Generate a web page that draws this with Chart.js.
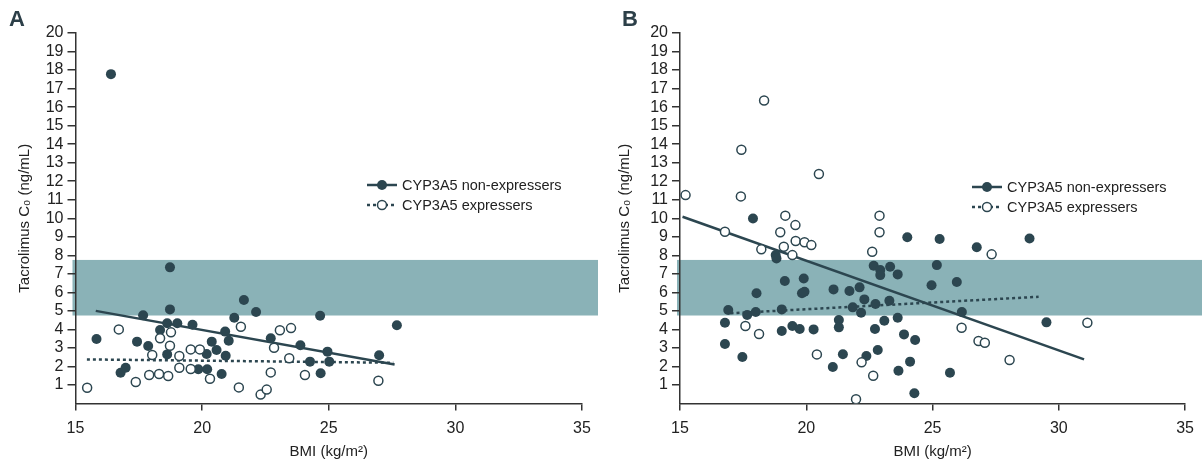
<!DOCTYPE html>
<html>
<head>
<meta charset="utf-8">
<script src="https://cdn.jsdelivr.net/npm/chart.js@4/dist/chart.umd.min.js"></script>
<style>
  body { margin: 0; background: #fff; }
  .wrap { position: relative; width: 1202px; height: 465px; }
  .panel { position: absolute; top: 0; height: 465px; }
  .tag { position: absolute; top: 6px; font: bold 22px "Liberation Sans", sans-serif; color: #2c3f48; }
</style>
</head>
<body>
<div class="wrap">
  <div class="panel" style="left:0;width:600px"><canvas id="chart-a" width="600" height="465"></canvas></div>
  <div class="panel" style="left:600px;width:602px"><canvas id="chart-b" width="602" height="465"></canvas></div>
  <div class="tag" style="left:9px">A</div>
  <div class="tag" style="left:622px">B</div>
</div>
<script>
// Panel A: BMI (x) vs tacrolimus C0 (y)
const aNonX = [16.4, 18.73, 15.83, 17.67, 18.73, 18.34, 18.62, 19.02, 19.62, 17.43, 17.87, 18.62, 16.78, 16.98,
  20.38, 20.57, 20.18, 20.91, 21.05, 20.93, 19.85, 20.2, 20.77, 21.27, 21.65, 22.13, 22.71, 23.88,
  24.66, 27.69, 24.95, 24.26, 25.02, 24.68, 26.99];
const aNonY = [17.78, 7.35, 3.48, 4.76, 5.08, 3.97, 4.33, 4.33, 4.25, 3.34, 3.1, 2.65, 1.66, 1.93,
  3.34, 2.89, 2.67, 3.88, 3.39, 2.58, 1.85, 1.85, 1.59, 4.63, 5.59, 4.94, 3.52, 3.14,
  4.74, 4.22, 2.8, 2.26, 2.26, 1.63, 2.6];
const aExpX = [15.46, 16.71, 17.38, 17.91, 18.03, 18.3, 18.66, 18.34, 18.77, 18.73, 19.1, 19.1, 19.55, 19.91,
  19.55, 20.31, 21.45, 21.53, 22.31, 22.55, 22.71, 22.84, 23.07, 23.51, 23.44, 24.06, 26.96];
const aExpY = [0.85, 4.0, 1.16, 1.54, 2.62, 1.59, 1.48, 3.52, 3.84, 3.12, 2.56, 1.93, 2.92, 2.92,
  1.86, 1.34, 0.87, 4.14, 0.48, 0.75, 1.68, 3.01, 3.95, 4.07, 2.44, 1.54, 1.23];
const aFitNon = [[15.8, 5.0], [27.6, 2.1]];
const aFitExp = [[15.45, 2.38], [27.55, 2.2]];

// Panel B
const bNonX = [17.89, 18.79, 18.82, 22.67, 22.93, 22.93, 23.32, 23.62, 19.15, 19.9, 19.83, 19.93, 18.03, 21.08,
  21.71, 22.11, 22.3, 21.84, 22.17, 22.74, 23.29, 23.62, 16.91, 16.78, 17.66, 18.0, 19.03, 16.78, 17.47,
  19.03, 19.45, 19.74, 20.29, 21.29, 21.29, 21.45, 21.05, 22.38, 22.83, 22.72, 23.09, 23.65,
  24.0, 25.28, 28.84, 26.75, 25.17, 24.96, 25.96, 26.16, 29.51, 23.87, 24.31, 24.11, 25.69, 24.28];
const bNonY = [9.99, 8.01, 7.83, 7.44, 7.2, 6.93, 7.38, 6.97, 6.61, 6.75, 5.95, 6.03, 5.95, 6.16,
  6.07, 6.27, 5.62, 5.19, 4.9, 5.37, 5.55, 4.63, 5.05, 4.36, 4.78, 4.94, 5.08, 3.21, 2.51,
  3.91, 4.18, 4.02, 4.0, 4.51, 4.11, 2.66, 1.97, 2.56, 2.89, 4.02, 4.47, 1.77,
  8.97, 8.88, 8.91, 8.43, 7.47, 6.38, 6.56, 4.94, 4.38, 3.73, 3.43, 2.26, 1.66, 0.55];
const bExpX = [15.22, 18.33, 17.43, 17.41, 20.5, 19.17, 19.57, 16.78, 18.97, 22.9, 22.9, 19.11, 19.58, 19.93,
  20.2, 18.22, 19.45, 22.61, 17.59, 18.13, 20.42, 22.19, 22.65, 21.97, 27.34, 31.13, 26.15, 26.82, 27.07, 28.05];
const bExpY = [11.25, 16.36, 13.7, 11.18, 12.39, 10.14, 9.63, 9.27, 9.24, 10.14, 9.24, 8.46, 8.77, 8.7,
  8.55, 8.32, 8.01, 8.19, 4.18, 3.75, 2.65, 2.22, 1.5, 0.23, 8.05, 4.36, 4.09, 3.37, 3.28, 2.35];
const bFitNon = [[15.1, 10.08], [31.0, 2.38]];
const bFitExp = [[17.0, 4.87], [29.2, 5.76]];

const xTicks = [15, 20, 25, 30, 35];
const rangeLow = 4.75, rangeHigh = 7.75;
const legendLabels = ['CYP3A5 non-expressers', 'CYP3A5 expressers'];

const DARK = '#2c4650';
const AXIS = '#333';
const BAND = '#8ab2b7';
const FONT = '"Liberation Sans Narrow", "Liberation Sans", sans-serif';

function pts(xs, ys) { return xs.map((x, i) => ({ x: x, y: ys[i] })); }
function fit(p) { return p.map(d => ({ x: d[0], y: d[1] })); }

function makeChart(id, non, exp, fitNon, fitExp, cfg) {
  // shaded target range, drawn under the axes
  const bandPlugin = {
    id: 'band',
    beforeDraw(chart) {
      const { ctx, chartArea, scales } = chart;
      const y1 = scales.y.getPixelForValue(rangeHigh);
      const y2 = scales.y.getPixelForValue(rangeLow);
      ctx.save();
      ctx.fillStyle = BAND;
      ctx.fillRect(chartArea.left - 3, y1, cfg.bandRight - chartArea.left + 3, y2 - y1);
      ctx.restore();
    }
  };
  // legend with line + marker symbols
  const legendPlugin = {
    id: 'lineLegend',
    afterDraw(chart) {
      const ctx = chart.ctx;
      ctx.save();
      ctx.strokeStyle = DARK;
      ctx.lineWidth = 2.5;
      legendLabels.forEach((lab, i) => {
        const y = cfg.legY + i * 20;
        ctx.setLineDash(i ? [3, 3] : []);
        ctx.beginPath();
        ctx.moveTo(cfg.legX, y);
        ctx.lineTo(cfg.legX + 30, y);
        ctx.stroke();
        ctx.setLineDash([]);
        ctx.beginPath();
        ctx.arc(cfg.legX + 15, y, i ? 4.5 : 5, 0, Math.PI * 2);
        ctx.fillStyle = i ? '#fff' : DARK;
        ctx.fill();
        if (i) { ctx.lineWidth = 1.5; ctx.stroke(); ctx.lineWidth = 2.5; }
        ctx.fillStyle = '#222';
        ctx.font = '14.5px ' + FONT;
        ctx.textBaseline = 'middle';
        ctx.fillText(lab, cfg.legX + 35, y + 1);
      });
      ctx.restore();
    }
  };

  new Chart(document.getElementById(id), {
    type: 'scatter',
    data: {
      datasets: [
        { data: exp, pointRadius: 4.5, pointBorderWidth: 1.5, pointBackgroundColor: '#fff', pointBorderColor: DARK },
        { data: non, pointRadius: 5, pointBorderWidth: 0, pointBackgroundColor: DARK, pointBorderColor: DARK },
        { data: fitNon, showLine: true, borderColor: DARK, borderWidth: 2.5, pointRadius: 0 },
        { data: fitExp, showLine: true, borderColor: DARK, borderWidth: 2.5, borderDash: [3, 3], pointRadius: 0 }
      ]
    },
    options: {
      responsive: false,
      animation: false,
      layout: { padding: { left: 0, top: 33, right: cfg.padRight, bottom: 0 } },
      plugins: { legend: { display: false }, tooltip: { enabled: false } },
      scales: {
        x: {
          type: 'linear', min: 15, max: 35,
          afterBuildTicks(s) { s.ticks = xTicks.map(v => ({ value: v })); },
          afterFit(s) { s.height = 61.5; },
          border: { display: true, color: AXIS, width: 1.5 },
          grid: { drawOnChartArea: false, drawTicks: true, tickLength: 7, color: AXIS, lineWidth: 1.5 },
          ticks: { color: '#222', font: { family: FONT, size: 16 }, padding: 8 },
          title: { display: true, text: 'BMI (kg/m²)', color: '#222', font: { family: FONT, size: 15 }, padding: { top: 0, bottom: 4 } }
        },
        y: {
          min: 0, max: 20,
          ticks: { stepSize: 1, autoSkip: false, color: '#222', font: { family: FONT, size: 16 }, padding: 4,
            callback: v => (v === 0 ? '' : v) },
          afterFit(s) { s.width = cfg.yWidth; },
          border: { display: true, color: AXIS, width: 1.5 },
          grid: { drawOnChartArea: false, drawTicks: true, tickLength: 8, lineWidth: 1.5,
            color: c => (c.tick && c.tick.value === 0 ? 'rgba(0,0,0,0)' : AXIS) },
          title: { display: true, text: 'Tacrolimus C₀ (ng/mL)', color: '#222', font: { family: FONT, size: 15 }, padding: { top: 16, bottom: 0 } }
        }
      }
    },
    plugins: [bandPlugin, legendPlugin]
  });
}

makeChart('chart-a', pts(aNonX, aNonY), pts(aExpX, aExpY), fit(aFitNon), fit(aFitExp),
  { padRight: 18, yWidth: 75.5, bandRight: 598, legX: 367, legY: 185 });
makeChart('chart-b', pts(bNonX, bNonY), pts(bExpX, bExpY), fit(bFitNon), fit(bFitExp),
  { padRight: 15, yWidth: 80, bandRight: 602, legX: 372, legY: 187 });
</script>
</body>
</html>
